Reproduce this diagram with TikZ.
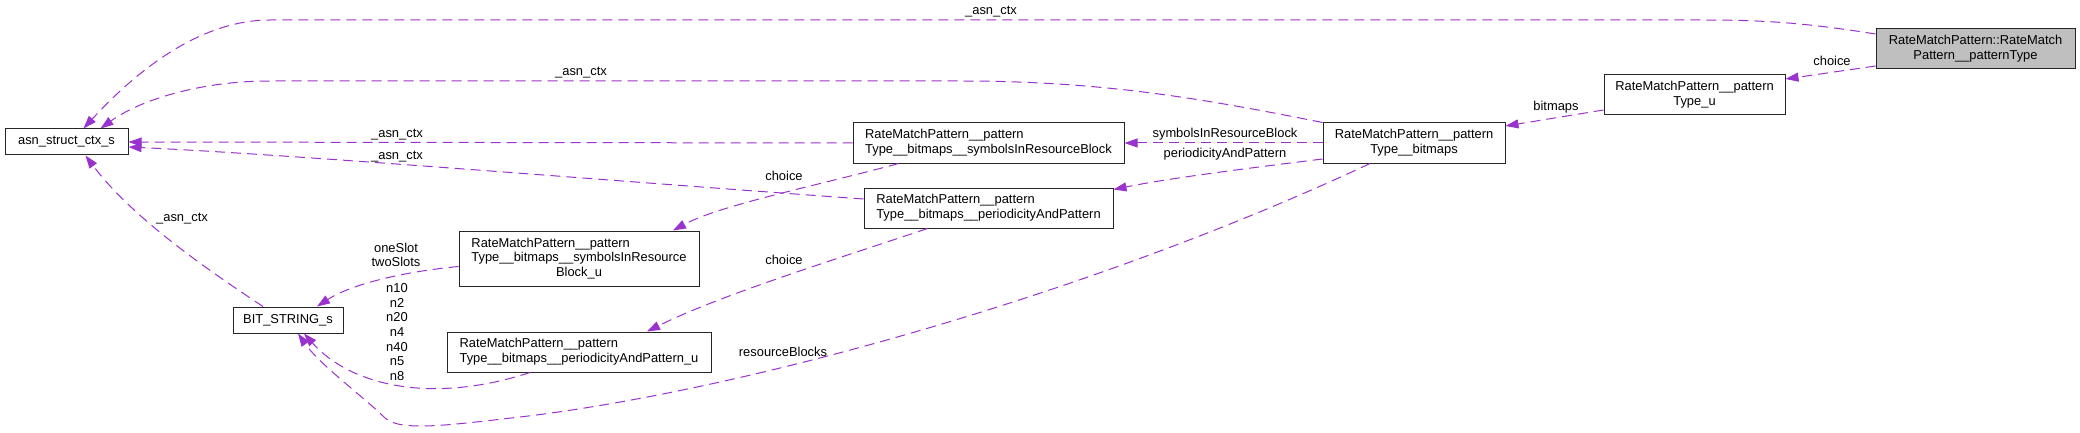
\documentclass[tikz,border=0pt]{standalone}
\usepackage{fontspec}
\setmainfont{Liberation Sans}
\usepackage{calc}
\usetikzlibrary{arrows.meta}
\definecolor{relpurple}{HTML}{9A32CD}
\definecolor{boxgray}{HTML}{BFBFBF}

\begin{document}
\begin{tikzpicture}[
    x=1pt, y=-1pt,
    >={Triangle[length=13pt,width=9pt]},
    every node/.style={font=\fontsize{12.9}{14.7}\selectfont},
    cls/.style={draw=black!85, line width=1pt, fill=white, inner sep=0pt, align=center},
    lbl/.style={inner sep=0pt, align=center},
    rel/.style={->, draw=relpurple, line width=1pt, dash pattern=on 10pt off 6pt}
]
\fill[white] (0,0) rectangle (2080,433);
\useasboundingbox (0,0) rectangle (2080,433);

\node[cls, fill=boxgray, minimum width=199pt, minimum height=40pt] (ptype) at (1975.5,49) {RateMatchPattern::RateMatch\\Pattern\_\_patternType};
\node[cls, minimum width=181pt, minimum height=40pt] (typeu) at (1694.5,95) {RateMatchPattern\_\_pattern\\Type\_u};
\node[cls, minimum width=182pt, minimum height=40pt] (bitmaps) at (1414,143) {RateMatchPattern\_\_pattern\\Type\_\_bitmaps};
\node[cls, align=left, minimum width=271pt, minimum height=40pt] (sirb) at (988.5,143) {RateMatchPattern\_\_pattern\\Type\_\_bitmaps\_\_symbolsInResourceBlock};
\node[cls, align=left, minimum width=249pt, minimum height=40pt] (pap) at (988.5,208) {RateMatchPattern\_\_pattern\\Type\_\_bitmaps\_\_periodicityAndPattern};
\node[cls, minimum width=123pt, minimum height=26pt] (asn) at (66.5,142) {asn\_struct\_ctx\_s};
\node[cls, minimum width=240pt, minimum height=55pt] (sirbu) at (579,258.5) {\makebox[\widthof{Type\_\_bitmaps\_\_symbolsInResource}][l]{RateMatchPattern\_\_pattern}\\Type\_\_bitmaps\_\_symbolsInResource\\Block\_u};
\node[cls, align=left, minimum width=264pt, minimum height=40pt] (papu) at (579,352) {RateMatchPattern\_\_pattern\\Type\_\_bitmaps\_\_periodicityAndPattern\_u};
\node[cls, minimum width=110pt, minimum height=26pt] (bits) at (288,320) {BIT\_STRING\_s};

\draw[rel] ([yshift=15pt]ptype.west) .. controls (1800,22) and (1760,20) .. (1700,20) -- (270,20) .. controls (195,20) and (130,78) .. ([xshift=17pt]asn.north);
\draw[rel] ([yshift=-17pt]ptype.west) -- ([yshift=16pt]typeu.east);
\draw[rel] ([yshift=-15pt]typeu.west) -- ([yshift=17pt]bitmaps.east);
\draw[rel] (bitmaps.north west) .. controls (1200,98) and (1100,81) .. (960,81) -- (270,81) .. controls (200,81) and (140,100) .. ([xshift=34pt]asn.north);
\draw[rel] (bitmaps.west) -- (sirb.east);
\draw[rel] ([yshift=-16pt]bitmaps.west) .. controls (1250,168) and (1170,178) .. ([yshift=-2pt]pap.north east);
\draw[rel] ([xshift=-44pt]bitmaps.south) .. controls (1100,290) and (750,390) .. (520,417) .. controls (450,425) and (400,432) .. (385,418) .. controls (365,398) and (320,365) .. ([xshift=10pt]bits.south);
\draw[rel] ([xshift=-90pt]sirb.south) .. controls (820,185) and (720,205) .. ([xshift=94pt]sirbu.north);
\draw[rel] (sirb.west) -- (asn.east);
\draw[rel] ([xshift=-61pt]pap.south) .. controls (840,258) and (720,295) .. ([xshift=68pt]papu.north);
\draw[rel] ([yshift=9pt]pap.west) .. controls (600,180) and (300,155) .. ([yshift=-5pt]asn.east);
\draw[rel] ([yshift=-8pt]sirbu.west) .. controls (400,272) and (350,285) .. ([xshift=29pt]bits.north);
\draw[rel] ([xshift=-49pt]papu.south) .. controls (430,405) and (350,385) .. ([xshift=16pt]bits.south);
\draw[rel] ([xshift=-25pt]bits.north) .. controls (200,265) and (130,215) .. ([xshift=19pt]asn.south);

\node[lbl] (ctxtop) at (991,12) {\_asn\_ctx};
\node[lbl] (ctxbitmaps) at (581,73) {\_asn\_ctx};
\node[lbl] (ctxsirb) at (397,135) {\_asn\_ctx};
\node[lbl] (ctxpap) at (397,157) {\_asn\_ctx};
\node[lbl] (ctxbits) at (182,219) {\_asn\_ctx};
\node[lbl] (choiceu) at (1832,61) {choice};
\node[lbl] (bitmapsl) at (1556,107) {bitmaps};
\node[lbl] (sirbl) at (1225,134) {symbolsInResourceBlock};
\node[lbl] (papl) at (1225,154) {periodicityAndPattern};
\node[lbl] (choicesirb) at (784,176) {choice};
\node[lbl] (choicepap) at (784,260) {choice};
\node[lbl] (resl) at (783,352) {resourceBlocks};
\node[lbl] (slotsl) at (396,255) {oneSlot\\twoSlots};
\node[lbl] (nl) at (397,332) {n10\\n2\\n20\\n4\\n40\\n5\\n8};

\end{tikzpicture}
\end{document}
